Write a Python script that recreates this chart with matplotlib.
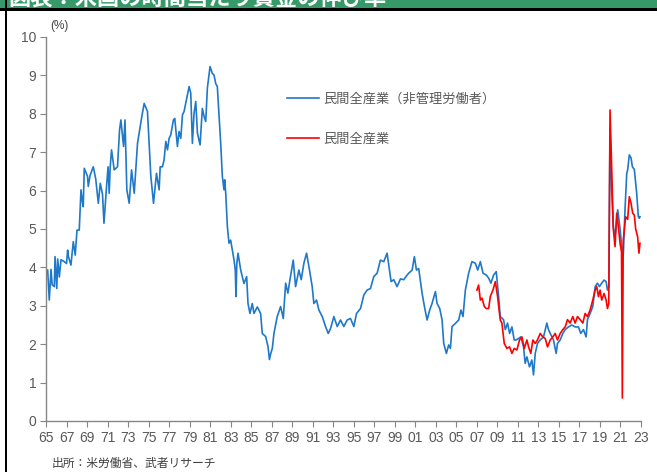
import matplotlib
matplotlib.use('Agg')
import matplotlib.pyplot as plt
from matplotlib.patches import Rectangle
import numpy as np

# 民間全産業（非管理労働者）: year, yoy %
blue_years = [
    1965.16, 1965.32, 1965.49, 1965.60, 1965.81, 1965.88, 1966.05, 1966.14, 1966.30, 1966.46,
    1966.78, 1967.00, 1967.11, 1967.17, 1967.43, 1967.66, 1967.85, 1968.02, 1968.24, 1968.41,
    1968.55, 1968.63, 1968.73, 1969.05, 1969.12, 1969.30, 1969.61, 1969.85, 1970.10, 1970.29,
    1970.51, 1970.65, 1970.90, 1971.05, 1971.16, 1971.26, 1971.39, 1971.65, 1971.97, 1972.17,
    1972.30, 1972.56, 1972.70, 1972.88, 1973.11, 1973.34, 1973.60, 1973.92, 1974.34, 1974.57,
    1974.89, 1975.22, 1975.48, 1975.77, 1976.03, 1976.13, 1976.35, 1976.51, 1976.68, 1976.84,
    1977.00, 1977.16, 1977.42, 1977.55, 1977.81, 1977.97, 1978.14, 1978.30, 1978.46, 1978.72,
    1978.95, 1979.11, 1979.27, 1979.43, 1979.60, 1979.76, 1980.02, 1980.24, 1980.41, 1980.57,
    1980.73, 1980.99, 1981.22, 1981.38, 1981.54, 1981.70, 1981.87, 1982.03, 1982.19, 1982.35,
    1982.42, 1982.52, 1982.68, 1982.84, 1983.00, 1983.16, 1983.33, 1983.45, 1983.52, 1983.60,
    1983.72, 1983.98, 1984.14, 1984.30, 1984.56, 1984.69, 1984.88, 1985.11, 1985.27, 1985.60,
    1985.92, 1986.08, 1986.41, 1986.64, 1986.78, 1986.90, 1987.06, 1987.22, 1987.54, 1987.87,
    1988.13, 1988.36, 1988.58, 1988.78, 1989.10, 1989.33, 1989.65, 1989.88, 1990.14, 1990.40,
    1990.63, 1990.95, 1991.11, 1991.37, 1991.60, 1991.93, 1992.25, 1992.51, 1992.74, 1993.06,
    1993.39, 1993.71, 1994.03, 1994.36, 1994.68, 1995.01, 1995.27, 1995.66, 1995.98, 1996.30,
    1996.63, 1996.95, 1997.28, 1997.60, 1997.93, 1998.25, 1998.64, 1998.90, 1999.22, 1999.55,
    1999.87, 2000.20, 2000.36, 2000.69, 2000.91, 2001.11, 2001.33, 2001.66, 2001.89, 2002.15,
    2002.40, 2002.63, 2002.96, 2003.12, 2003.38, 2003.61, 2003.77, 2004.03, 2004.25, 2004.42,
    2004.58, 2004.90, 2005.23, 2005.45, 2005.65, 2005.88, 2006.20, 2006.52, 2006.85, 2007.08,
    2007.34, 2007.60, 2007.92, 2008.15, 2008.37, 2008.63, 2008.89, 2009.12, 2009.28, 2009.60,
    2009.77, 2009.99, 2010.19, 2010.42, 2010.64, 2010.84, 2011.06, 2011.29, 2011.55, 2011.71,
    2011.88, 2012.13, 2012.36, 2012.52, 2012.69, 2012.91, 2013.17, 2013.50, 2013.82, 2013.98,
    2014.15, 2014.47, 2014.73, 2014.86, 2015.12, 2015.38, 2015.61, 2015.93, 2016.25, 2016.58,
    2016.90, 2017.13, 2017.39, 2017.65, 2017.78, 2018.04, 2018.30, 2018.53, 2018.75, 2018.95,
    2019.17, 2019.40, 2019.60, 2019.73, 2019.86, 2019.98, 2020.14, 2020.30, 2020.47, 2020.73,
    2020.96, 2021.12, 2021.28, 2021.44, 2021.61, 2021.70, 2021.86, 2022.03, 2022.16, 2022.35,
    2022.58, 2022.74, 2022.83, 2022.90,
]
blue_values = [
    3.93, 3.15, 3.95, 3.55, 3.50, 4.28, 3.45, 4.22, 3.75, 4.20,
    4.15, 4.10, 4.45, 4.30, 4.06, 4.67, 4.32, 4.97, 4.97, 6.02,
    5.70, 5.58, 6.58, 6.37, 6.11, 6.40, 6.62, 6.30, 5.67, 6.19,
    5.90, 5.15, 6.10, 6.62, 5.93, 6.62, 7.06, 6.54, 6.62, 7.58,
    7.84, 7.15, 7.84, 6.02, 5.67, 6.54, 5.93, 7.23, 7.93, 8.27,
    8.06, 6.37, 5.67, 6.45, 6.02, 6.62, 6.62, 6.80, 7.28, 7.06,
    7.36, 7.45, 7.84, 7.88, 7.15, 7.54, 7.36, 7.97, 8.06, 8.40,
    8.71, 8.54, 7.23, 8.01, 8.32, 7.50, 7.19, 8.14, 7.93, 7.80,
    8.67, 9.23, 9.05, 9.01, 8.79, 8.71, 7.93, 7.23, 6.37, 6.02,
    6.28, 5.93, 5.06, 4.63, 4.71, 4.45, 4.19, 3.93, 3.24, 4.10,
    4.37, 3.93, 3.76, 3.58, 3.76, 3.06, 2.80, 3.06, 2.80, 2.97,
    2.80, 2.28, 2.20, 1.94, 1.60, 1.75, 1.89, 2.28, 2.72, 2.98,
    2.67, 3.59, 3.33, 3.68, 4.19, 3.50, 3.93, 3.68, 4.11, 4.37,
    4.02, 3.50, 3.06, 3.15, 2.89, 2.72, 2.46, 2.28, 2.41, 2.72,
    2.46, 2.63, 2.46, 2.63, 2.67, 2.46, 2.80, 2.93, 3.28, 3.41,
    3.45, 3.76, 3.85, 4.19, 4.15, 4.37, 3.63, 3.68, 3.50, 3.70,
    3.68, 3.80, 3.85, 3.93, 4.28, 3.93, 3.97, 3.33, 2.98, 2.63,
    2.89, 3.06, 3.37, 3.06, 2.93, 2.63, 2.02, 1.76, 1.98, 1.89,
    2.46, 2.54, 2.63, 2.89, 2.72, 3.41, 3.85, 4.15, 4.11, 3.93,
    4.15, 3.85, 3.80, 3.72, 3.59, 3.80, 3.89, 3.24, 2.72, 2.64,
    2.38, 2.55, 2.28, 2.45, 2.11, 2.11, 2.15, 2.19, 1.93, 1.50,
    1.67, 1.41, 1.59, 1.20, 1.76, 2.02, 2.11, 2.19, 2.55, 2.38,
    2.28, 2.11, 1.76, 2.02, 2.11, 2.28, 2.38, 2.45, 2.50, 2.45,
    2.45, 2.28, 2.38, 2.19, 2.64, 2.80, 2.98, 3.50, 3.59, 3.50,
    3.59, 3.67, 3.63, 3.41, 3.50, 7.60, 6.00, 5.06, 4.80, 5.50,
    5.00, 4.54, 4.37, 5.50, 6.45, 6.54, 6.93, 6.85, 6.62, 6.55,
    5.93, 5.32, 5.28, 5.32,
]

# 民間全産業: year, yoy %
red_years = [
    2007.01, 2007.17, 2007.34, 2007.50, 2007.73, 2007.92, 2008.15, 2008.31, 2008.57, 2008.80,
    2009.02, 2009.28, 2009.44, 2009.67, 2009.93, 2010.19, 2010.42, 2010.64, 2010.90, 2011.16,
    2011.39, 2011.62, 2011.88, 2012.04, 2012.26, 2012.46, 2012.69, 2012.91, 2013.17, 2013.43,
    2013.66, 2013.89, 2014.15, 2014.41, 2014.63, 2014.86, 2015.12, 2015.38, 2015.61, 2015.83,
    2016.09, 2016.35, 2016.58, 2016.81, 2017.07, 2017.33, 2017.55, 2017.78, 2018.04, 2018.30,
    2018.53, 2018.69, 2018.85, 2019.01, 2019.17, 2019.40, 2019.60, 2019.73, 2019.86, 2019.98,
    2020.14, 2020.30, 2020.47, 2020.63, 2020.79, 2020.96, 2021.10, 2021.18, 2021.27, 2021.50,
    2021.70, 2021.86, 2022.03, 2022.19, 2022.35, 2022.48, 2022.67, 2022.80, 2022.90,
]
red_values = [
    3.41, 3.54, 3.15, 3.20, 2.98, 2.93, 2.93, 3.24, 3.41, 3.63,
    3.24, 2.63, 2.55, 2.02, 1.89, 1.93, 1.76, 1.89, 1.85, 2.11,
    2.19, 1.89, 2.11, 1.93, 1.76, 2.11, 2.02, 2.11, 2.28, 2.19,
    2.15, 1.93, 2.11, 2.19, 2.28, 2.11, 2.28, 2.38, 2.45, 2.64,
    2.55, 2.72, 2.55, 2.72, 2.64, 2.55, 2.80, 2.72, 2.89, 3.15,
    3.41, 3.50, 3.24, 3.41, 3.15, 3.32, 3.15, 2.93, 3.06, 8.10,
    6.62, 5.00, 4.54, 5.41, 5.06, 4.63, 4.40, 0.60, 4.71, 5.32,
    5.25, 5.84, 5.67, 5.41, 5.36, 5.00, 4.80, 4.37, 4.63,
]

x_ticks = list(range(1965, 2024, 2))
x_labels = ['%02d' % (y % 100) for y in x_ticks]
y_ticks = list(range(0, 11))

label_blue = '民間全産業（非管理労働者）'
label_red = '民間全産業'
title = '図表：米国の時間当たり賃金の伸び率'
source = '出所：米労働省、武者リサーチ'

plt.rcParams['font.family'] = ['Liberation Sans', 'Noto Sans CJK JP']
grey = '#595959'
axis_grey = '#868686'

fig = plt.figure(figsize=(6.57, 4.72), dpi=100)
W, H = 657, 472

# header band (title cut off at the top, as in the source) and frame
fig.patches.append(Rectangle((0, 1 - 8 / H), 1, 8 / H, transform=fig.transFigure,
                             facecolor='#359a68', edgecolor='none', zorder=0))
fig.text(8 / W, 1 + 2 / H, title, family=['Noto Sans CJK JP'], fontsize=16,
         fontweight='bold', color='white', ha='left', va='center', zorder=1)
fig.patches.append(Rectangle((0, 1 - 10.5 / H), 1, 2.5 / H, transform=fig.transFigure,
                             facecolor='black', edgecolor='none', zorder=2))
fig.patches.append(Rectangle((4.5 / W, 0), 2.5 / W, 1, transform=fig.transFigure,
                             facecolor='black', edgecolor='none', zorder=2))

ax = fig.add_axes([46 / W, 1 - 421 / H, 595 / W, 384 / H])
ax.plot(blue_years, blue_values, color='#1f78c8', lw=1.2, label=label_blue)
ax.plot(red_years, red_values, color='#ff0000', lw=1.2, label=label_red)

ax.set_xlim(1965, 2023)
ax.set_ylim(0, 10)
ax.set_xticks(x_ticks)
ax.set_xticklabels(x_labels)
ax.set_yticks(y_ticks)
for s in ['top', 'right']:
    ax.spines[s].set_visible(False)
for s in ['left', 'bottom']:
    ax.spines[s].set_color(axis_grey)
    ax.spines[s].set_linewidth(1.0)
ax.tick_params(axis='both', direction='out', length=4, color=axis_grey,
               labelcolor=grey, labelsize=10)
ax.tick_params(axis='x', pad=3)
ax.tick_params(axis='y', pad=3)

leg = ax.legend(loc='upper left', bbox_to_anchor=((287 - 46) / 595, (421 - 93) / 384),
                frameon=False, borderpad=0, borderaxespad=0, handlelength=2.4,
                handletextpad=0.35, labelspacing=2.0,
                prop={'family': ['Noto Sans CJK JP'], 'size': 9.5})
for t in leg.get_texts():
    t.set_color(grey)

fig.text(50 / W, 1 - 26 / H, '(%)', fontsize=8.5, color='#404040', ha='left', va='center')
fig.text(52 / W, 1 - 463 / H, source, family=['Noto Sans CJK JP'], fontsize=8.5,
         color='#404040', ha='left', va='center')

fig.savefig('out.png', dpi=100)
